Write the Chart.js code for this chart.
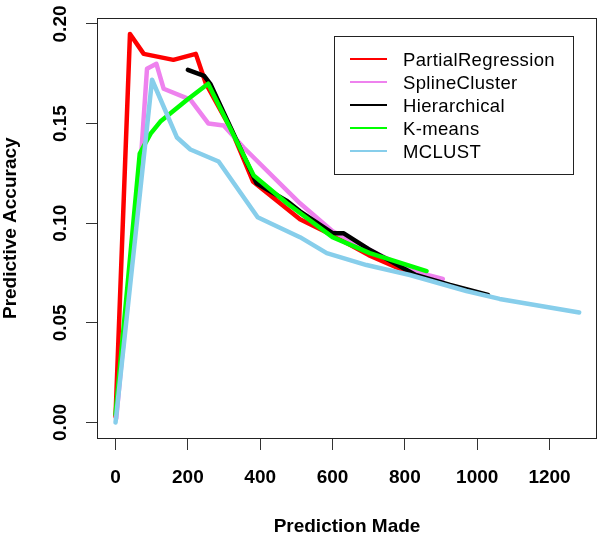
<!DOCTYPE html>
<html>
<head>
<meta charset="utf-8">
<script src="https://cdn.jsdelivr.net/npm/chart.js@4.4.0/dist/chart.umd.min.js"></script>
<style>
  body { margin: 0; background: #fff; }
  canvas { display: block; }
</style>
</head>
<body>
<canvas id="chart" width="600" height="535"></canvas>
<script>
// data
var seriesNames = ['PartialRegression', 'SplineCluster', 'Hierarchical', 'K-means', 'MCLUST'];
var seriesColors = ['#ff0000', '#ee82ee', '#000000', '#00ff00', '#87ceeb'];

var prX = [0, 40, 78, 160, 222, 250, 320, 380, 455, 510, 600, 700, 825];
var prY = [0.003, 0.195, 0.185, 0.182, 0.185, 0.170, 0.147, 0.121, 0.110, 0.102, 0.094, 0.084, 0.074];

var scX = [2, 72, 87, 113, 133, 207, 257, 299, 354, 510, 600, 720, 820, 905];
var scY = [0.002, 0.137, 0.1775, 0.180, 0.1675, 0.162, 0.150, 0.149, 0.138, 0.110, 0.096, 0.085, 0.076, 0.072];

var hcX = [200, 245, 262, 390, 475, 510, 600, 630, 700, 830, 925, 1030];
var hcY = [0.177, 0.174, 0.170, 0.120, 0.111, 0.106, 0.095, 0.095, 0.087, 0.074, 0.069, 0.064];

var kmX = [0, 67, 97, 124, 198, 256, 382, 474, 600, 703, 860];
var kmY = [0.004, 0.135, 0.145, 0.151, 0.162, 0.170, 0.124, 0.110, 0.093, 0.085, 0.076];

var mcX = [0, 101, 170, 207, 285, 393, 428, 510, 584, 694, 814, 970, 1062, 1282];
var mcY = [0.000, 0.172, 0.143, 0.137, 0.131, 0.103, 0.100, 0.093, 0.085, 0.079, 0.074, 0.066, 0.062, 0.0552];

var xTicks = [0, 200, 400, 600, 800, 1000, 1200];
var yTicks = [0.00, 0.05, 0.10, 0.15, 0.20];

var allX = [prX, scX, hcX, kmX, mcX];
var allY = [prY, scY, hcY, kmY, mcY];

var datasets = seriesNames.map(function(name, i) {
    return {
        label: name,
        data: allX[i].map(function(x, j) { return {x: x, y: allY[i][j]}; }),
        borderColor: seriesColors[i],
        borderWidth: 4.5,
        borderCapStyle: 'round',
        borderJoinStyle: 'round',
        pointRadius: 0,
        fill: false,
        tension: 0,
        order: seriesNames.length - i // later series on top, like R
    };
});

var boldFont = { family: '"Liberation Sans", Arial, sans-serif', size: 19, weight: 'bold' };

// box round the plot and legend inside it
var boxPlugin = {
    id: 'rbox',
    afterDraw: function(chart) {
        var ctx = chart.ctx;
        var a = chart.chartArea;
        ctx.save();
        ctx.strokeStyle = '#222';
        ctx.lineWidth = 1;
        ctx.strokeRect(Math.round(a.left) + 0.5, Math.round(a.top) + 0.5,
            Math.round(a.right - a.left) - 1, Math.round(a.bottom - a.top));

        // legend
        ctx.fillStyle = '#fff';
        ctx.fillRect(334, 36, 239, 138);
        ctx.strokeStyle = '#222';
        ctx.strokeRect(334.5, 36.5, 239, 138);
        ctx.font = '18.5px "Liberation Sans", Arial, sans-serif';
        ctx.letterSpacing = '0.35px';
        ctx.textBaseline = 'alphabetic';
        chart.data.datasets.forEach(function(ds, i) {
            var y = 59 + i * 23;
            ctx.strokeStyle = ds.borderColor;
            ctx.lineWidth = 2;
            ctx.beginPath();
            ctx.moveTo(350, y);
            ctx.lineTo(387, y);
            ctx.stroke();
            ctx.fillStyle = '#000';
            ctx.fillText(ds.label, 403, y + 6.5);
        });
        ctx.restore();
    }
};

var ctx = document.getElementById('chart').getContext('2d');
var chart = new Chart(ctx, {
    type: 'line',
    data: { datasets: datasets },
    options: {
        responsive: false,
        animation: false,
        layout: { padding: { top: 14, right: 3, left: 0, bottom: 0 } },
        plugins: {
            legend: { display: false },
            tooltip: { enabled: false }
        },
        scales: {
            x: {
                type: 'linear',
                min: -51.2,
                max: 1331.2,
                afterBuildTicks: function(scale) {
                    scale.ticks = xTicks.map(function(v) { return {value: v}; });
                },
                afterFit: function(scale) { scale.height = 97; },
                ticks: {
                    color: '#000',
                    font: boldFont,
                    padding: 16,
                    maxRotation: 0,
                    autoSkip: false,
                    callback: function(value) { return String(value); }
                },
                grid: { drawOnChartArea: false, tickLength: 12, color: '#333' },
                border: { display: false },
                title: {
                    display: true,
                    text: 'Prediction Made',
                    color: '#000',
                    font: { family: boldFont.family, size: 19, weight: 'bold', lineHeight: 0.9 },
                    padding: 0
                }
            },
            y: {
                type: 'linear',
                min: -0.0078,
                max: 0.2028,
                afterBuildTicks: function(scale) {
                    scale.ticks = yTicks.map(function(v) { return {value: v}; });
                },
                afterFit: function(scale) { scale.width = 97; },
                ticks: {
                    color: '#000',
                    font: boldFont,
                    padding: 7,
                    minRotation: 90,
                    maxRotation: 90,
                    crossAlign: 'center',
                    autoSkip: false,
                    callback: function(value) { return value.toFixed(2); }
                },
                grid: { drawOnChartArea: false, tickLength: 11, color: '#333' },
                border: { display: false },
                title: {
                    display: true,
                    text: 'Predictive Accuracy',
                    color: '#000',
                    font: { family: boldFont.family, size: 19, weight: 'bold', lineHeight: 1.1 },
                    padding: 0
                }
            }
        }
    },
    plugins: [boxPlugin]
});
</script>
</body>
</html>
